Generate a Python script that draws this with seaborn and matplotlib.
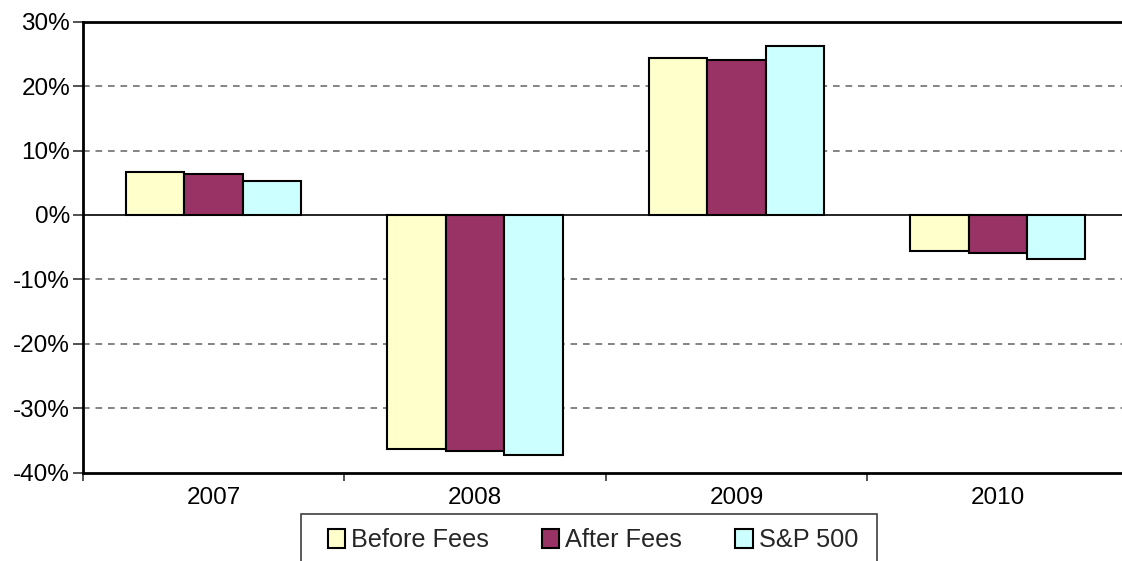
import matplotlib
matplotlib.use("Agg")
import matplotlib.pyplot as plt
from matplotlib.patches import Rectangle
import seaborn as sns
import pandas as pd
import numpy as np

years = ["2007", "2008", "2009", "2010"]
series_names = ["Before Fees", "After Fees", "S&P 500"]
before_fees = [6.7, -36.3, 24.4, -5.6]
after_fees = [6.4, -36.6, 24.1, -5.9]
sp500 = [5.2, -37.2, 26.2, -6.9]
colors = ["#FFFFCC", "#993366", "#CCFFFF"]
y_ticks = [-40, -30, -20, -10, 0, 10, 20, 30]
y_tick_labels = ["-40%", "-30%", "-20%", "-10%", "0%", "10%", "20%", "30%"]

rows = []
for name, vals in zip(series_names, [before_fees, after_fees, sp500]):
    for y, v in zip(years, vals):
        rows.append({"Year": y, "Series": name, "Return": v})
df = pd.DataFrame(rows)

sns.set_theme(style="white")
plt.rcParams["font.family"] = ["Liberation Sans", "DejaVu Sans"]

FS = 17.5
LFS = 18.2
W, H = 1122, 561
fig = plt.figure(figsize=(W / 100, H / 100), dpi=100)
left = 82.7 / W
right = 1128.6 / W
top = 1 - 21.7 / H
bottom = 1 - 472.7 / H
ax = fig.add_axes([left, bottom, right - left, top - bottom])

sns.barplot(data=df, x="Year", y="Return", hue="Series", hue_order=series_names,
            order=years, palette=colors, width=0.67, edgecolor="black",
            linewidth=1.5, saturation=1, ax=ax, legend=True, zorder=3)

ax.set_xlim(-0.5, 3.5)
ax.set_ylim(-40, 30)
ax.set_yticks(y_ticks)
ax.set_yticklabels(y_tick_labels)
ax.set_xlabel("")
ax.set_ylabel("")

for t in y_ticks:
    if t not in (-40, 0, 30):
        ax.axhline(t, color="#707070", lw=1.2, ls=(0, (4, 3.5)), zorder=1)
ax.axhline(0, color="black", lw=1.2, zorder=2)

for s in ["left", "bottom", "top"]:
    ax.spines[s].set_visible(True)
    ax.spines[s].set_color("black")
    ax.spines[s].set_linewidth(2)
ax.spines["right"].set_visible(False)

ax.tick_params(axis="y", which="major", direction="out", length=7, width=1.2,
               color="#333333", labelsize=FS, labelcolor="black", left=True, pad=2)
ax.tick_params(axis="x", which="major", length=0, labelsize=FS,
               labelcolor="black", pad=10)
ax.set_xticks(np.arange(-0.5, 4.0, 1.0), minor=True)
ax.tick_params(axis="x", which="minor", direction="out", length=6, width=1.2,
               color="#333333", bottom=True)

# legend
leg_old = ax.get_legend()
handles, labels = ax.get_legend_handles_labels()
if leg_old is not None:
    leg_old.remove()

fx0, fx1 = 301 / W, 876.7 / W
fy_top = 1 - 514 / H
fig.patches.append(Rectangle((fx0, -0.05), fx1 - fx0, fy_top + 0.05,
                             transform=fig.transFigure, facecolor="white",
                             edgecolor="#404040", linewidth=1.2, zorder=5))

leg = fig.legend(handles, labels, loc="center left",
                 bbox_to_anchor=(328 / W, 1 - 540 / H),
                 ncol=3, frameon=False, fontsize=LFS,
                 handlelength=0.68, handleheight=0.8,
                 handletextpad=0.24, borderpad=0, borderaxespad=0,
                 columnspacing=2.1)
leg.set_zorder(6)
for p in leg.get_patches():
    p.set_edgecolor("black")
    p.set_linewidth(1.5)

fig.savefig("out.png", dpi=100)
